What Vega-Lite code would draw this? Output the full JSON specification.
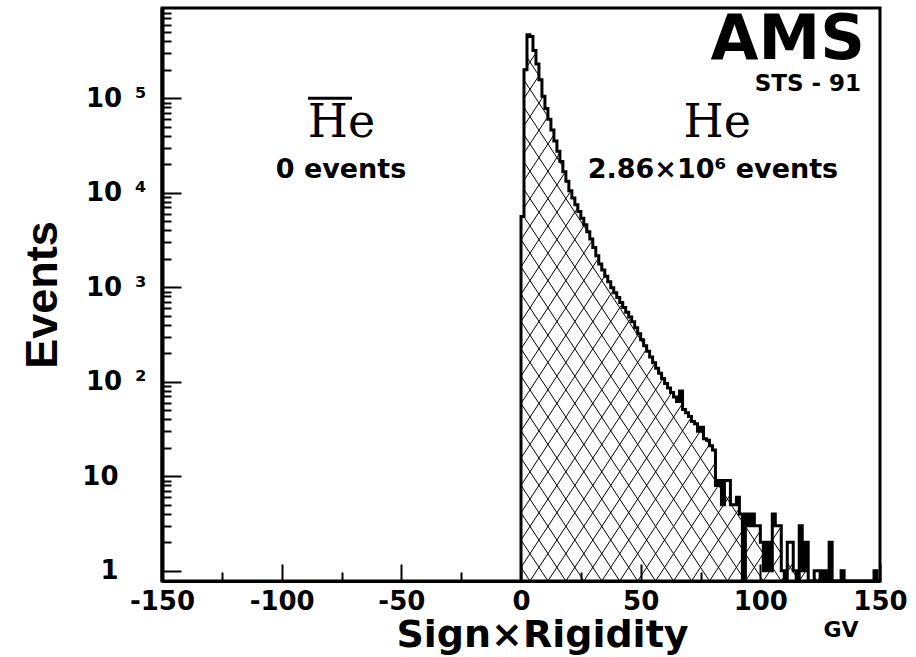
{
"$schema": "https://vega.github.io/schema/vega-lite/v6.json",
"width": 718, "height": 573,
"autosize": "none",
"padding": {"left": 162, "top": 8, "right": 36, "bottom": 76},
"background": "white",
"config": {"view": {"stroke": "black", "strokeWidth": 3}, "font": "DejaVu Sans"},
"layer": [
{
"data": {"values": [
{"x":0,"n":0},{"x":0,"n":5600},{"x":1.25,"n":200000},{"x":2.5,"n":470000},{"x":3.75,"n":450000},{"x":5,"n":320000},{"x":6.25,"n":230000},{"x":7.5,"n":157000},{"x":8.75,"n":105000},{"x":10,"n":78000},{"x":11.25,"n":60000},{"x":12.5,"n":46000},{"x":13.75,"n":35300},{"x":15,"n":27500},{"x":16.25,"n":21400},{"x":17.5,"n":16700},{"x":18.75,"n":13200},{"x":20,"n":10500},{"x":21.25,"n":8800},{"x":22.5,"n":7460},{"x":23.75,"n":6340},{"x":25,"n":5380},{"x":26.25,"n":4570},{"x":27.5,"n":3870},{"x":28.75,"n":3230},{"x":30,"n":2640},{"x":31.25,"n":2150},{"x":32.5,"n":1760},{"x":33.75,"n":1520},{"x":35,"n":1310},{"x":36.25,"n":1140},{"x":37.5,"n":988},{"x":38.75,"n":877},{"x":40,"n":778},{"x":41.25,"n":690},{"x":42.5,"n":612},{"x":43.75,"n":545},{"x":45,"n":485},{"x":46.25,"n":432},{"x":47.5,"n":373},{"x":48.75,"n":322},{"x":50,"n":278},{"x":51.25,"n":241},{"x":52.5,"n":210},{"x":53.75,"n":183},{"x":55,"n":159},{"x":56.25,"n":139},{"x":57.5,"n":123},{"x":58.75,"n":108},{"x":60,"n":96},{"x":61.25,"n":86},{"x":62.5,"n":77},{"x":63.75,"n":69},{"x":65,"n":62},{"x":66.25,"n":80},{"x":67.5,"n":51},{"x":68.75,"n":47},{"x":70,"n":43},{"x":71.25,"n":38},{"x":72.5,"n":36},{"x":73.75,"n":30},{"x":75,"n":33},{"x":76.25,"n":25},{"x":77.5,"n":24},{"x":78.75,"n":21},{"x":80,"n":19},{"x":81.25,"n":8},{"x":82.5,"n":9},{"x":83.75,"n":5},{"x":85,"n":9},{"x":86.25,"n":9},{"x":87.5,"n":5},{"x":88.75,"n":5},{"x":90,"n":6},{"x":91.25,"n":4},{"x":92.5,"n":0},{"x":93.75,"n":4},{"x":95,"n":3},{"x":96.25,"n":4},{"x":97.5,"n":3},{"x":98.75,"n":3},{"x":100,"n":2},{"x":101.25,"n":1},{"x":102.5,"n":2},{"x":103.75,"n":1},{"x":105,"n":4},{"x":106.25,"n":3},{"x":107.5,"n":3},{"x":108.75,"n":1},{"x":110,"n":0},{"x":111.25,"n":2},{"x":112.5,"n":2},{"x":113.75,"n":1},{"x":115,"n":0},{"x":116.25,"n":3},{"x":117.5,"n":1},{"x":118.75,"n":2},{"x":120,"n":0},{"x":121.25,"n":0},{"x":122.5,"n":1},{"x":123.75,"n":1},{"x":125,"n":0},{"x":126.25,"n":1},{"x":127.5,"n":0},{"x":128.75,"n":2},{"x":130,"n":0},{"x":131.25,"n":0},{"x":132.5,"n":0},{"x":133.75,"n":1},{"x":135,"n":0},{"x":136.25,"n":0},{"x":137.5,"n":0},{"x":138.75,"n":0},{"x":140,"n":0},{"x":141.25,"n":0},{"x":142.5,"n":0},{"x":143.75,"n":0},{"x":145,"n":0},{"x":146.25,"n":0},{"x":147.5,"n":1},{"x":148.75,"n":0},{"x":150,"n":0}
]},
"encoding": {
 "x": {"field": "x", "type": "quantitative",
  "scale": {"domain": [-150, 150], "nice": false, "zero": false},
  "axis": {"title": "Sign×Rigidity", "values": [-150,-125,-100,-75,-50,-25,0,25,50,75,100,125,150],
   "labelExpr": "datum.value % 50 === 0 ? '' + datum.value : ''",
   "labelFont": "DejaVu Sans", "labelFontSize": 26, "labelFontWeight": "bold", "labelColor": "black",
   "labelPadding": 24, "labelOverlap": false, "labelFlush": false,
   "tickSize": {"condition": {"test": "datum.value % 50 === 0", "value": -17}, "value": -9},
   "tickWidth": 2, "tickColor": "black", "domainColor": "black", "domainWidth": 3, "grid": false,
   "titleFont": "DejaVu Sans", "titleFontSize": 38, "titleFontWeight": "bold", "titleColor": "black",
   "titleX": 380, "titleY": 65, "titleBaseline": "alphabetic"}},
 "y": {"field": "n", "type": "quantitative",
  "scale": {"type": "log", "domain": [0.78, 900000], "nice": false, "clamp": true},
  "axis": {"title": "Events", "values": [1,2,3,4,5,6,7,8,9,10,20,30,40,50,60,70,80,90,100,200,300,400,500,600,700,800,900,1000,2000,3000,4000,5000,6000,7000,8000,9000,10000,20000,30000,40000,50000,60000,70000,80000,90000,100000,200000,300000,400000,500000,600000,700000,800000],
   "labelExpr": "datum.value === 1 ? '1' : datum.value === 10 ? '10' : datum.value === 100 ? '10\u2002²' : datum.value === 1000 ? '10\u2002³' : datum.value === 10000 ? '10\u2002⁴' : datum.value === 100000 ? '10\u2002⁵' : ''",
   "labelFont": "DejaVu Sans", "labelFontSize": 26, "labelFontWeight": "bold", "labelColor": "black",
   "labelPadding": {"condition": {"test": "datum.value === 1 || datum.value === 10", "value": 63}, "value": 35},
   "labelOverlap": false, "labelAlign": "right", "labelBaseline": "middle",
   "tickSize": {"condition": {"test": "indexof([1,10,100,1000,10000,100000], datum.value) >= 0", "value": -19}, "value": -9},
   "tickWidth": 2, "tickColor": "black", "domainColor": "black", "domainWidth": 4, "grid": false,
   "titleFont": "Liberation Sans", "titleFontSize": 45, "titleFontWeight": "bold", "titleColor": "black",
   "titleX": -106, "titleBaseline": "alphabetic"}}
},
"layer": [
 {"mark": {"type": "area", "interpolate": "step-after", "opacity": 1,
   "fill": {"gradient": "linear", "x1": 0, "y1": 0, "x2": 1, "y2": 1, "stops": [
{"offset":0.0111,"color":"rgba(0,0,0,0)"},{"offset":0.0125,"color":"#000"},{"offset":0.0139,"color":"rgba(0,0,0,0)"},
{"offset":0.0361,"color":"rgba(0,0,0,0)"},{"offset":0.0375,"color":"#000"},{"offset":0.0389,"color":"rgba(0,0,0,0)"},
{"offset":0.0611,"color":"rgba(0,0,0,0)"},{"offset":0.0625,"color":"#000"},{"offset":0.0639,"color":"rgba(0,0,0,0)"},
{"offset":0.0861,"color":"rgba(0,0,0,0)"},{"offset":0.0875,"color":"#000"},{"offset":0.0889,"color":"rgba(0,0,0,0)"},
{"offset":0.1111,"color":"rgba(0,0,0,0)"},{"offset":0.1125,"color":"#000"},{"offset":0.1139,"color":"rgba(0,0,0,0)"},
{"offset":0.1361,"color":"rgba(0,0,0,0)"},{"offset":0.1375,"color":"#000"},{"offset":0.1389,"color":"rgba(0,0,0,0)"},
{"offset":0.1611,"color":"rgba(0,0,0,0)"},{"offset":0.1625,"color":"#000"},{"offset":0.1639,"color":"rgba(0,0,0,0)"},
{"offset":0.1861,"color":"rgba(0,0,0,0)"},{"offset":0.1875,"color":"#000"},{"offset":0.1889,"color":"rgba(0,0,0,0)"},
{"offset":0.2111,"color":"rgba(0,0,0,0)"},{"offset":0.2125,"color":"#000"},{"offset":0.2139,"color":"rgba(0,0,0,0)"},
{"offset":0.2361,"color":"rgba(0,0,0,0)"},{"offset":0.2375,"color":"#000"},{"offset":0.2389,"color":"rgba(0,0,0,0)"},
{"offset":0.2611,"color":"rgba(0,0,0,0)"},{"offset":0.2625,"color":"#000"},{"offset":0.2639,"color":"rgba(0,0,0,0)"},
{"offset":0.2861,"color":"rgba(0,0,0,0)"},{"offset":0.2875,"color":"#000"},{"offset":0.2889,"color":"rgba(0,0,0,0)"},
{"offset":0.3111,"color":"rgba(0,0,0,0)"},{"offset":0.3125,"color":"#000"},{"offset":0.3139,"color":"rgba(0,0,0,0)"},
{"offset":0.3361,"color":"rgba(0,0,0,0)"},{"offset":0.3375,"color":"#000"},{"offset":0.3389,"color":"rgba(0,0,0,0)"},
{"offset":0.3611,"color":"rgba(0,0,0,0)"},{"offset":0.3625,"color":"#000"},{"offset":0.3639,"color":"rgba(0,0,0,0)"},
{"offset":0.3861,"color":"rgba(0,0,0,0)"},{"offset":0.3875,"color":"#000"},{"offset":0.3889,"color":"rgba(0,0,0,0)"},
{"offset":0.4111,"color":"rgba(0,0,0,0)"},{"offset":0.4125,"color":"#000"},{"offset":0.4139,"color":"rgba(0,0,0,0)"},
{"offset":0.4361,"color":"rgba(0,0,0,0)"},{"offset":0.4375,"color":"#000"},{"offset":0.4389,"color":"rgba(0,0,0,0)"},
{"offset":0.4611,"color":"rgba(0,0,0,0)"},{"offset":0.4625,"color":"#000"},{"offset":0.4639,"color":"rgba(0,0,0,0)"},
{"offset":0.4861,"color":"rgba(0,0,0,0)"},{"offset":0.4875,"color":"#000"},{"offset":0.4889,"color":"rgba(0,0,0,0)"},
{"offset":0.5111,"color":"rgba(0,0,0,0)"},{"offset":0.5125,"color":"#000"},{"offset":0.5139,"color":"rgba(0,0,0,0)"},
{"offset":0.5361,"color":"rgba(0,0,0,0)"},{"offset":0.5375,"color":"#000"},{"offset":0.5389,"color":"rgba(0,0,0,0)"},
{"offset":0.5611,"color":"rgba(0,0,0,0)"},{"offset":0.5625,"color":"#000"},{"offset":0.5639,"color":"rgba(0,0,0,0)"},
{"offset":0.5861,"color":"rgba(0,0,0,0)"},{"offset":0.5875,"color":"#000"},{"offset":0.5889,"color":"rgba(0,0,0,0)"},
{"offset":0.6111,"color":"rgba(0,0,0,0)"},{"offset":0.6125,"color":"#000"},{"offset":0.6139,"color":"rgba(0,0,0,0)"},
{"offset":0.6361,"color":"rgba(0,0,0,0)"},{"offset":0.6375,"color":"#000"},{"offset":0.6389,"color":"rgba(0,0,0,0)"},
{"offset":0.6611,"color":"rgba(0,0,0,0)"},{"offset":0.6625,"color":"#000"},{"offset":0.6639,"color":"rgba(0,0,0,0)"},
{"offset":0.6861,"color":"rgba(0,0,0,0)"},{"offset":0.6875,"color":"#000"},{"offset":0.6889,"color":"rgba(0,0,0,0)"},
{"offset":0.7111,"color":"rgba(0,0,0,0)"},{"offset":0.7125,"color":"#000"},{"offset":0.7139,"color":"rgba(0,0,0,0)"},
{"offset":0.7361,"color":"rgba(0,0,0,0)"},{"offset":0.7375,"color":"#000"},{"offset":0.7389,"color":"rgba(0,0,0,0)"},
{"offset":0.7611,"color":"rgba(0,0,0,0)"},{"offset":0.7625,"color":"#000"},{"offset":0.7639,"color":"rgba(0,0,0,0)"},
{"offset":0.7861,"color":"rgba(0,0,0,0)"},{"offset":0.7875,"color":"#000"},{"offset":0.7889,"color":"rgba(0,0,0,0)"},
{"offset":0.8111,"color":"rgba(0,0,0,0)"},{"offset":0.8125,"color":"#000"},{"offset":0.8139,"color":"rgba(0,0,0,0)"},
{"offset":0.8361,"color":"rgba(0,0,0,0)"},{"offset":0.8375,"color":"#000"},{"offset":0.8389,"color":"rgba(0,0,0,0)"},
{"offset":0.8611,"color":"rgba(0,0,0,0)"},{"offset":0.8625,"color":"#000"},{"offset":0.8639,"color":"rgba(0,0,0,0)"},
{"offset":0.8861,"color":"rgba(0,0,0,0)"},{"offset":0.8875,"color":"#000"},{"offset":0.8889,"color":"rgba(0,0,0,0)"},
{"offset":0.9111,"color":"rgba(0,0,0,0)"},{"offset":0.9125,"color":"#000"},{"offset":0.9139,"color":"rgba(0,0,0,0)"},
{"offset":0.9361,"color":"rgba(0,0,0,0)"},{"offset":0.9375,"color":"#000"},{"offset":0.9389,"color":"rgba(0,0,0,0)"},
{"offset":0.9611,"color":"rgba(0,0,0,0)"},{"offset":0.9625,"color":"#000"},{"offset":0.9639,"color":"rgba(0,0,0,0)"},
{"offset":0.9861,"color":"rgba(0,0,0,0)"},{"offset":0.9875,"color":"#000"},{"offset":0.9889,"color":"rgba(0,0,0,0)"}
   ]}},
  "encoding": {"y2": {"datum": 0.78}}},
 {"mark": {"type": "area", "interpolate": "step-after", "opacity": 1,
   "fill": {"gradient": "linear", "x1": 0, "y1": 1, "x2": 1, "y2": 0, "stops": [
{"offset":0.0111,"color":"rgba(0,0,0,0)"},{"offset":0.0125,"color":"#000"},{"offset":0.0139,"color":"rgba(0,0,0,0)"},
{"offset":0.0361,"color":"rgba(0,0,0,0)"},{"offset":0.0375,"color":"#000"},{"offset":0.0389,"color":"rgba(0,0,0,0)"},
{"offset":0.0611,"color":"rgba(0,0,0,0)"},{"offset":0.0625,"color":"#000"},{"offset":0.0639,"color":"rgba(0,0,0,0)"},
{"offset":0.0861,"color":"rgba(0,0,0,0)"},{"offset":0.0875,"color":"#000"},{"offset":0.0889,"color":"rgba(0,0,0,0)"},
{"offset":0.1111,"color":"rgba(0,0,0,0)"},{"offset":0.1125,"color":"#000"},{"offset":0.1139,"color":"rgba(0,0,0,0)"},
{"offset":0.1361,"color":"rgba(0,0,0,0)"},{"offset":0.1375,"color":"#000"},{"offset":0.1389,"color":"rgba(0,0,0,0)"},
{"offset":0.1611,"color":"rgba(0,0,0,0)"},{"offset":0.1625,"color":"#000"},{"offset":0.1639,"color":"rgba(0,0,0,0)"},
{"offset":0.1861,"color":"rgba(0,0,0,0)"},{"offset":0.1875,"color":"#000"},{"offset":0.1889,"color":"rgba(0,0,0,0)"},
{"offset":0.2111,"color":"rgba(0,0,0,0)"},{"offset":0.2125,"color":"#000"},{"offset":0.2139,"color":"rgba(0,0,0,0)"},
{"offset":0.2361,"color":"rgba(0,0,0,0)"},{"offset":0.2375,"color":"#000"},{"offset":0.2389,"color":"rgba(0,0,0,0)"},
{"offset":0.2611,"color":"rgba(0,0,0,0)"},{"offset":0.2625,"color":"#000"},{"offset":0.2639,"color":"rgba(0,0,0,0)"},
{"offset":0.2861,"color":"rgba(0,0,0,0)"},{"offset":0.2875,"color":"#000"},{"offset":0.2889,"color":"rgba(0,0,0,0)"},
{"offset":0.3111,"color":"rgba(0,0,0,0)"},{"offset":0.3125,"color":"#000"},{"offset":0.3139,"color":"rgba(0,0,0,0)"},
{"offset":0.3361,"color":"rgba(0,0,0,0)"},{"offset":0.3375,"color":"#000"},{"offset":0.3389,"color":"rgba(0,0,0,0)"},
{"offset":0.3611,"color":"rgba(0,0,0,0)"},{"offset":0.3625,"color":"#000"},{"offset":0.3639,"color":"rgba(0,0,0,0)"},
{"offset":0.3861,"color":"rgba(0,0,0,0)"},{"offset":0.3875,"color":"#000"},{"offset":0.3889,"color":"rgba(0,0,0,0)"},
{"offset":0.4111,"color":"rgba(0,0,0,0)"},{"offset":0.4125,"color":"#000"},{"offset":0.4139,"color":"rgba(0,0,0,0)"},
{"offset":0.4361,"color":"rgba(0,0,0,0)"},{"offset":0.4375,"color":"#000"},{"offset":0.4389,"color":"rgba(0,0,0,0)"},
{"offset":0.4611,"color":"rgba(0,0,0,0)"},{"offset":0.4625,"color":"#000"},{"offset":0.4639,"color":"rgba(0,0,0,0)"},
{"offset":0.4861,"color":"rgba(0,0,0,0)"},{"offset":0.4875,"color":"#000"},{"offset":0.4889,"color":"rgba(0,0,0,0)"},
{"offset":0.5111,"color":"rgba(0,0,0,0)"},{"offset":0.5125,"color":"#000"},{"offset":0.5139,"color":"rgba(0,0,0,0)"},
{"offset":0.5361,"color":"rgba(0,0,0,0)"},{"offset":0.5375,"color":"#000"},{"offset":0.5389,"color":"rgba(0,0,0,0)"},
{"offset":0.5611,"color":"rgba(0,0,0,0)"},{"offset":0.5625,"color":"#000"},{"offset":0.5639,"color":"rgba(0,0,0,0)"},
{"offset":0.5861,"color":"rgba(0,0,0,0)"},{"offset":0.5875,"color":"#000"},{"offset":0.5889,"color":"rgba(0,0,0,0)"},
{"offset":0.6111,"color":"rgba(0,0,0,0)"},{"offset":0.6125,"color":"#000"},{"offset":0.6139,"color":"rgba(0,0,0,0)"},
{"offset":0.6361,"color":"rgba(0,0,0,0)"},{"offset":0.6375,"color":"#000"},{"offset":0.6389,"color":"rgba(0,0,0,0)"},
{"offset":0.6611,"color":"rgba(0,0,0,0)"},{"offset":0.6625,"color":"#000"},{"offset":0.6639,"color":"rgba(0,0,0,0)"},
{"offset":0.6861,"color":"rgba(0,0,0,0)"},{"offset":0.6875,"color":"#000"},{"offset":0.6889,"color":"rgba(0,0,0,0)"},
{"offset":0.7111,"color":"rgba(0,0,0,0)"},{"offset":0.7125,"color":"#000"},{"offset":0.7139,"color":"rgba(0,0,0,0)"},
{"offset":0.7361,"color":"rgba(0,0,0,0)"},{"offset":0.7375,"color":"#000"},{"offset":0.7389,"color":"rgba(0,0,0,0)"},
{"offset":0.7611,"color":"rgba(0,0,0,0)"},{"offset":0.7625,"color":"#000"},{"offset":0.7639,"color":"rgba(0,0,0,0)"},
{"offset":0.7861,"color":"rgba(0,0,0,0)"},{"offset":0.7875,"color":"#000"},{"offset":0.7889,"color":"rgba(0,0,0,0)"},
{"offset":0.8111,"color":"rgba(0,0,0,0)"},{"offset":0.8125,"color":"#000"},{"offset":0.8139,"color":"rgba(0,0,0,0)"},
{"offset":0.8361,"color":"rgba(0,0,0,0)"},{"offset":0.8375,"color":"#000"},{"offset":0.8389,"color":"rgba(0,0,0,0)"},
{"offset":0.8611,"color":"rgba(0,0,0,0)"},{"offset":0.8625,"color":"#000"},{"offset":0.8639,"color":"rgba(0,0,0,0)"},
{"offset":0.8861,"color":"rgba(0,0,0,0)"},{"offset":0.8875,"color":"#000"},{"offset":0.8889,"color":"rgba(0,0,0,0)"},
{"offset":0.9111,"color":"rgba(0,0,0,0)"},{"offset":0.9125,"color":"#000"},{"offset":0.9139,"color":"rgba(0,0,0,0)"},
{"offset":0.9361,"color":"rgba(0,0,0,0)"},{"offset":0.9375,"color":"#000"},{"offset":0.9389,"color":"rgba(0,0,0,0)"},
{"offset":0.9611,"color":"rgba(0,0,0,0)"},{"offset":0.9625,"color":"#000"},{"offset":0.9639,"color":"rgba(0,0,0,0)"},
{"offset":0.9861,"color":"rgba(0,0,0,0)"},{"offset":0.9875,"color":"#000"},{"offset":0.9889,"color":"rgba(0,0,0,0)"}
   ]}},
  "encoding": {"y2": {"datum": 0.78}}},
 {"mark": {"type": "line", "interpolate": "step-after", "color": "black", "strokeWidth": 3},
  "encoding": {}}
]
},
{"data": {"values": [{"t": "He"}]},
 "mark": {"type": "text", "font": "DejaVu Serif", "fontSize": 46, "align": "center", "baseline": "alphabetic", "color": "black"},
 "encoding": {"text": {"field": "t"}, "x": {"datum": -75, "type": "quantitative"}, "y": {"datum": 38800, "type": "quantitative"}}},
{"data": {"values": [{"t": "bar"}]},
 "mark": {"type": "rule", "strokeWidth": 3, "color": "black"},
 "encoding": {"x": {"datum": -89, "type": "quantitative"}, "x2": {"datum": -70.6}, "y": {"datum": 100000, "type": "quantitative"}}},
{"data": {"values": [{"t": "0 events"}]},
 "mark": {"type": "text", "font": "DejaVu Sans", "fontWeight": "bold", "fontSize": 27, "align": "center", "baseline": "alphabetic", "color": "black"},
 "encoding": {"text": {"field": "t"}, "x": {"datum": -75.2, "type": "quantitative"}, "y": {"datum": 14350, "type": "quantitative"}}},
{"data": {"values": [{"t": "He"}]},
 "mark": {"type": "text", "font": "DejaVu Serif", "fontSize": 46, "align": "center", "baseline": "alphabetic", "color": "black"},
 "encoding": {"text": {"field": "t"}, "x": {"datum": 82, "type": "quantitative"}, "y": {"datum": 38800, "type": "quantitative"}}},
{"data": {"values": [{"t": "2.86×10⁶ events"}]},
 "mark": {"type": "text", "font": "DejaVu Sans", "fontWeight": "bold", "fontSize": 27, "align": "center", "baseline": "alphabetic", "color": "black"},
 "encoding": {"text": {"field": "t"}, "x": {"datum": 80.2, "type": "quantitative"}, "y": {"datum": 14350, "type": "quantitative"}}},
{"data": {"values": [{"t": "AMS"}]},
 "mark": {"type": "text", "font": "DejaVu Sans", "fontWeight": "bold", "fontSize": 62, "align": "right", "baseline": "alphabetic", "color": "black"},
 "encoding": {"text": {"field": "t"}, "x": {"datum": 143.7, "type": "quantitative"}, "y": {"datum": 262000, "type": "quantitative"}}},
{"data": {"values": [{"t": "STS - 91"}]},
 "mark": {"type": "text", "font": "DejaVu Sans", "fontWeight": "bold", "fontSize": 23, "align": "right", "baseline": "alphabetic", "color": "black"},
 "encoding": {"text": {"field": "t"}, "x": {"datum": 142.1, "type": "quantitative"}, "y": {"datum": 118000, "type": "quantitative"}}},
{"data": {"values": [{"t": "GV"}]},
 "mark": {"type": "text", "font": "DejaVu Sans", "fontWeight": "bold", "fontSize": 22, "align": "center", "baseline": "alphabetic", "color": "black", "dy": 56},
 "encoding": {"text": {"field": "t"}, "x": {"datum": 133.7, "type": "quantitative"}, "y": {"datum": 0.78, "type": "quantitative"}}}
]
}
